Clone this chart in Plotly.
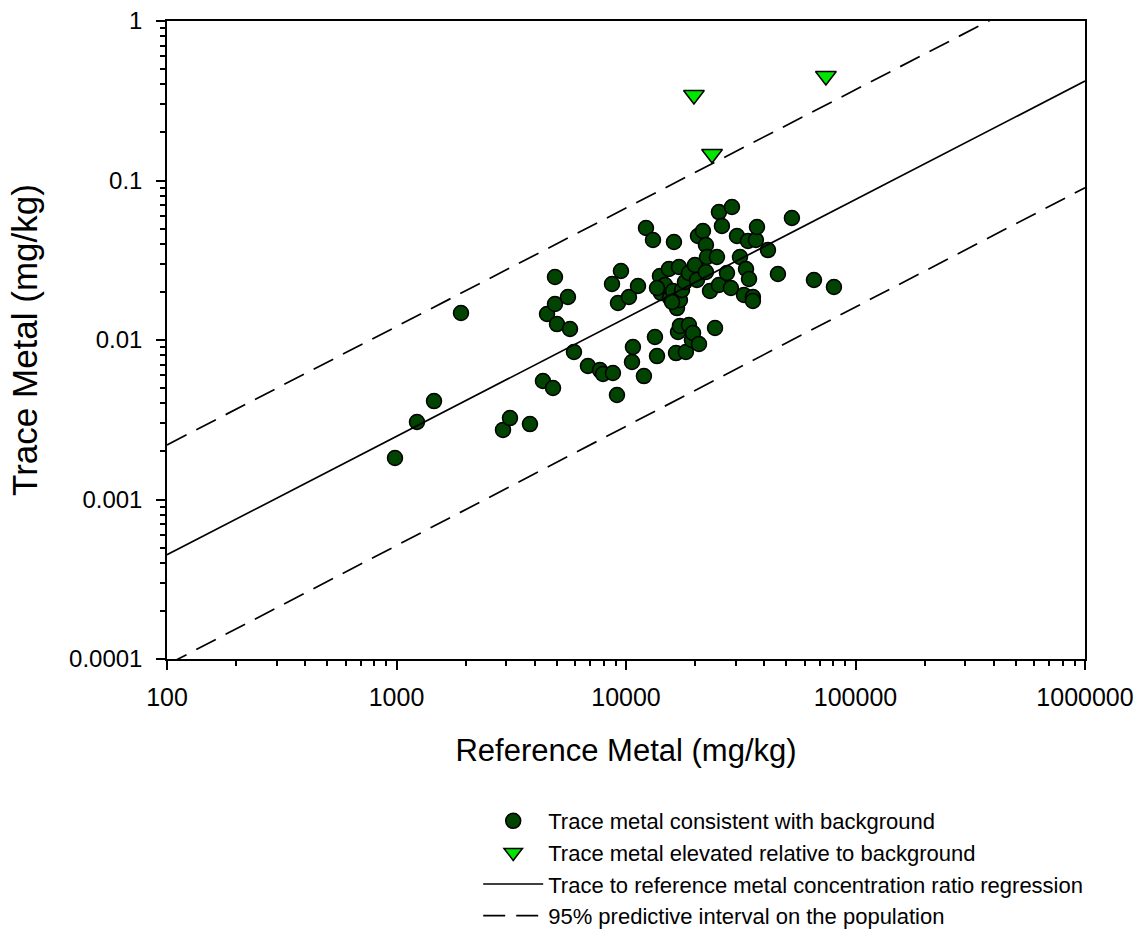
import plotly.graph_objects as go

# Background-consistent samples: reference metal (mg/kg) and trace metal (mg/kg)
bg_ref = [985, 1228, 1457, 1910, 2911, 3122, 3815, 4346, 4808, 4527,
          4904, 4904, 5003, 5585, 5702, 5932, 6826, 7703, 7939, 8772,
          9134, 8690, 9226, 9506, 10300, 10720, 10620, 11280, 11970, 12220,
          13110, 13370, 13650, 14060, 14200, 14790, 15380, 15540, 16030, 16180,
          16520, 16680, 16850, 17020, 17180, 17180, 17540, 18070, 18240, 18800,
          18800, 19370, 19590, 19970, 20380, 20590, 20800, 21640, 22300, 22300,
          22540, 23230, 24430, 24910, 25410, 25410, 26180, 27540, 28650, 28950,
          30450, 31380, 32660, 33340, 33990, 34360, 35730, 35730, 36810, 37220,
          41550, 45920, 52840, 65920, 80550, 13650, 15870]
bg_trace = [0.00182, 0.00306, 0.00414, 0.01476, 0.00273, 0.00324, 0.00297, 0.00553, 0.00500, 0.01455,
            0.02483, 0.01682, 0.01259, 0.0186, 0.01172, 0.00841, 0.00687, 0.00648, 0.00612, 0.00621,
            0.00452, 0.02244, 0.01706, 0.02707, 0.0186, 0.00904, 0.00728, 0.0218, 0.00594, 0.0504,
            0.04236, 0.01044, 0.00793, 0.02518, 0.01971, 0.02213, 0.02786, 0.01834, 0.02028, 0.04115,
            0.00828, 0.01586, 0.01122, 0.02868, 0.01782, 0.01225, 0.02057, 0.02309, 0.00841, 0.0263,
            0.01241, 0.0100, 0.01106, 0.02951, 0.02377, 0.04487, 0.00944, 0.04822, 0.03940, 0.02669,
            0.03313, 0.02028, 0.01189, 0.03313, 0.0634, 0.02213, 0.05188, 0.0263, 0.02118, 0.06823,
            0.04487, 0.03313, 0.01914, 0.02786, 0.04176, 0.02412, 0.0186, 0.01756, 0.04236, 0.05110,
            0.03664, 0.02593, 0.0582, 0.02377, 0.02148, 0.02118, 0.0173]

# Elevated samples
el_ref = [19770, 23710, 74300]
el_trace = [0.3436, 0.1466, 0.4519]

# Regression line and 95% predictive interval (end points)
reg_x = [100, 1000000]
reg_y = [0.00045, 0.42]
upper_x = [100, 1000000]
upper_y = [0.0022, 2.05]
lower_x = [100, 1000000]
lower_y = [0.000092, 0.09]

x_tickvals = [100, 1000, 10000, 100000, 1000000]
x_ticktext = ["100", "1000", "10000", "100000", "1000000"]
y_tickvals = [0.0001, 0.001, 0.01, 0.1, 1]
y_ticktext = ["0.0001", "0.001", "0.01", "0.1", "1"]

FONT = "Arial, Liberation Sans, sans-serif"

fig = go.Figure()
fig.add_trace(go.Scatter(
    x=bg_ref, y=bg_trace, mode="markers",
    name="Trace metal consistent with background",
    marker=dict(symbol="circle", size=15, color="#014301",
                line=dict(color="black", width=1.5)),
))
fig.add_trace(go.Scatter(
    x=el_ref, y=el_trace, mode="markers",
    name="Trace metal elevated relative to background",
    marker=dict(symbol="triangle-down", size=18, color="#00e600",
                line=dict(color="black", width=1.5)),
))
fig.add_trace(go.Scatter(
    x=reg_x, y=reg_y, mode="lines",
    name="Trace to reference metal concentration ratio regression",
    line=dict(color="black", width=1.7),
))
fig.add_trace(go.Scatter(
    x=upper_x, y=upper_y, mode="lines",
    name="95% predictive interval on the population",
    line=dict(color="black", width=1.7, dash="22px,11px"),
))
fig.add_trace(go.Scatter(
    x=lower_x, y=lower_y, mode="lines", showlegend=False,
    line=dict(color="black", width=1.7, dash="22px,11px"),
))

def minor_vals(lo, hi):
    vals = []
    for e in range(lo, hi):
        for m in range(2, 10):
            vals.append(m * 10.0 ** e)
    return vals

axis_common = dict(
    type="log", showgrid=False, zeroline=False,
    showline=True, linecolor="black", linewidth=1.5, mirror=True,
    ticks="outside", ticklen=9, tickwidth=1.5, tickcolor="black",
    automargin=False,
)

fig.update_xaxes(
    **axis_common, range=[2, 6],
    tickfont=dict(family=FONT, size=25, color="black"),
    tickmode="array", tickvals=x_tickvals, ticktext=x_ticktext,
    minor=dict(tickmode="array", tickvals=minor_vals(2, 6), ticks="outside",
               ticklen=5, tickwidth=1.5, tickcolor="black", showgrid=False),
    title=dict(text="Reference Metal (mg/kg)", font=dict(family=FONT, size=31, color="black"),
               standoff=30),
    ticklabelstandoff=6,
)
fig.update_yaxes(
    **axis_common, range=[-4, 0],
    tickfont=dict(family=FONT, size=24, color="black"),
    tickmode="array", tickvals=y_tickvals, ticktext=y_ticktext,
    minor=dict(tickmode="array", tickvals=minor_vals(-4, 0), ticks="outside",
               ticklen=5, tickwidth=1.5, tickcolor="black", showgrid=False),
    title=dict(text="Trace Metal (mg/kg)", font=dict(family=FONT, size=35, color="black"),
               standoff=21),
    ticklabelstandoff=9,
)

fig.update_layout(
    width=1140, height=933,
    margin=dict(l=167, r=55, t=21, b=274, autoexpand=False),
    paper_bgcolor="white", plot_bgcolor="white",
    showlegend=True,
    legend=dict(
        x=0.339, y=-0.221, xanchor="left", yanchor="top",
        font=dict(family=FONT, size=22, color="black"),
        itemwidth=60, tracegroupgap=0, bgcolor="rgba(0,0,0,0)",
    ),
)

fig.write_html("out.html")
